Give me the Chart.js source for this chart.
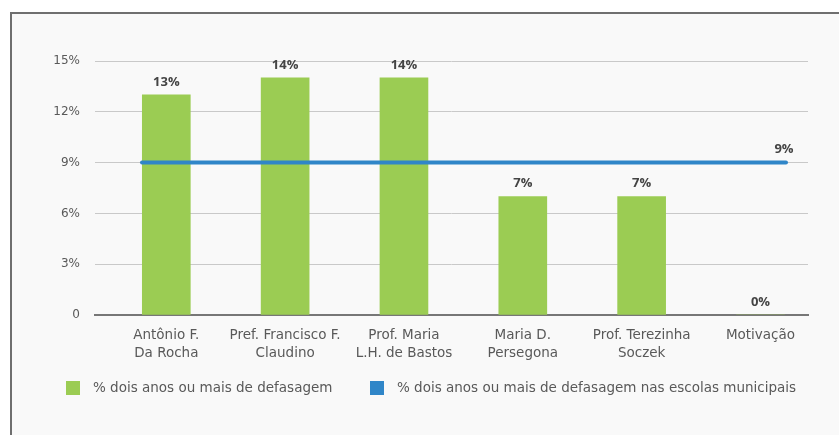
<!DOCTYPE html>
<html>
<head>
<meta charset="utf-8">
<script src="https://cdn.jsdelivr.net/npm/chart.js@4"></script>
<style>
  html, body { margin: 0; padding: 0; background: #ffffff; overflow: hidden; width: 839px; height: 435px; }
  #frame { position: absolute; left: 10px; top: 12px; width: 1000px; height: 1000px;
           border-left: 2px solid #6f6f6f; border-top: 2px solid #6f6f6f; background: #f9f9f9; }
  #c { position: absolute; left: 0; top: 0; }
</style>
</head>
<body>
<div id="frame"></div>
<canvas id="c" width="839" height="435"></canvas>
<script>
const categories = [
  ["Antônio F.", "Da Rocha"],
  ["Pref. Francisco F.", "Claudino"],
  ["Prof. Maria", "L.H. de Bastos"],
  ["Maria D.", "Persegona"],
  ["Prof. Terezinha", "Soczek"],
  ["Motivação"]
];
const barValues = [13, 14, 14, 7, 7, 0];
const lineValues = [9, 9, 9, 9, 9, 9];
const yTickValues = [0, 3, 6, 9, 12, 15];
const yTickLabels = ["0", "3%", "6%", "9%", "12%", "15%"];
const seriesNames = [
  "% dois anos ou mais de defasagem",
  "% dois anos ou mais de defasagem nas escolas municipais"
];
const seriesColors = ["#9bcc53", "#3086c8"];

const FONT = "'DejaVu Sans', sans-serif";
const BOLDFONT = "'Open Sans', sans-serif";
const TEXT = "#595959";

const valueLabels = {
  id: 'valueLabels',
  afterDatasetsDraw(chart) {
    const ctx = chart.ctx;
    ctx.save();
    ctx.font = "bold 13px " + BOLDFONT;
    ctx.fillStyle = "#444444";
    ctx.textAlign = "center";
    ctx.textBaseline = "alphabetic";
    const bm = chart.getDatasetMeta(0);
    bm.data.forEach((el, i) => {
      ctx.fillText(barValues[i] + "%", el.x, el.y - 9);
    });
    const lm = chart.getDatasetMeta(1);
    const last = lm.data[lm.data.length - 1];
    ctx.fillText(lineValues[lineValues.length - 1] + "%", last.x - 2, last.y - 10);
    ctx.restore();
  }
};

const customLegend = {
  id: 'customLegend',
  afterDraw(chart) {
    const ctx = chart.ctx;
    ctx.save();
    ctx.font = "13.5px " + FONT;
    ctx.textBaseline = "middle";
    ctx.textAlign = "left";
    const y = 388;
    const starts = [66, 370];
    seriesNames.forEach((name, i) => {
      ctx.fillStyle = seriesColors[i];
      ctx.fillRect(starts[i], y - 7, 14, 14);
      ctx.fillStyle = TEXT;
      ctx.fillText(name, starts[i] + 27, y);
    });
    ctx.restore();
  }
};

new Chart(document.getElementById('c'), {
  data: {
    datasets: [
      {
        type: 'bar',
        label: seriesNames[0],
        data: barValues.map((v, i) => ({ x: i, y: v })),
        backgroundColor: seriesColors[0],
        barThickness: 48,
        grouped: false,
        xAxisID: 'x',
        order: 1
      },
      {
        type: 'line',
        label: seriesNames[1],
        data: lineValues.map((v, i) => ({ x: i, y: v })),
        borderColor: seriesColors[1],
        backgroundColor: seriesColors[1],
        borderWidth: 4,
        borderCapStyle: 'round',
        pointRadius: 0,
        tension: 0,
        xAxisID: 'x2',
        order: 0
      }
    ]
  },
  options: {
    responsive: false,
    animation: false,
    devicePixelRatio: 1,
    layout: { padding: { top: 61, left: 0, right: 31, bottom: 0 } },
    plugins: { legend: { display: false }, tooltip: { enabled: false } },
    scales: {
      x: {
        type: 'linear',
        offset: false,
        min: -0.6,
        max: 5.4,
        afterBuildTicks: s => { s.ticks = categories.map((c, i) => ({ value: i })); },
        afterFit: s => { s.height = 120; },
        grid: { display: false, drawTicks: false, offset: false },
        border: { display: true, color: "#777777", width: 2 },
        ticks: {
          autoSkip: false,
          maxRotation: 0,
          padding: 12,
          color: TEXT,
          font: { family: FONT, size: 13.5, lineHeight: 1.33 },
          callback: v => categories[v]
        }
      },
      x2: {
        type: 'linear',
        display: false,
        offset: false,
        min: -0.365,
        max: 5.171
      },
      y: {
        min: 0,
        max: 15,
        afterBuildTicks: s => { s.ticks = yTickValues.map(v => ({ value: v })); },
        afterFit: s => { s.width = 95; },
        border: { display: false },
        grid: { color: "#c9c9c9", lineWidth: 1, drawTicks: false },
        ticks: {
          padding: 15,
          color: TEXT,
          font: { family: FONT, size: 12 },
          callback: (v) => yTickLabels[yTickValues.indexOf(v)]
        }
      }
    }
  },
  plugins: [valueLabels, customLegend]
});
</script>
</body>
</html>
